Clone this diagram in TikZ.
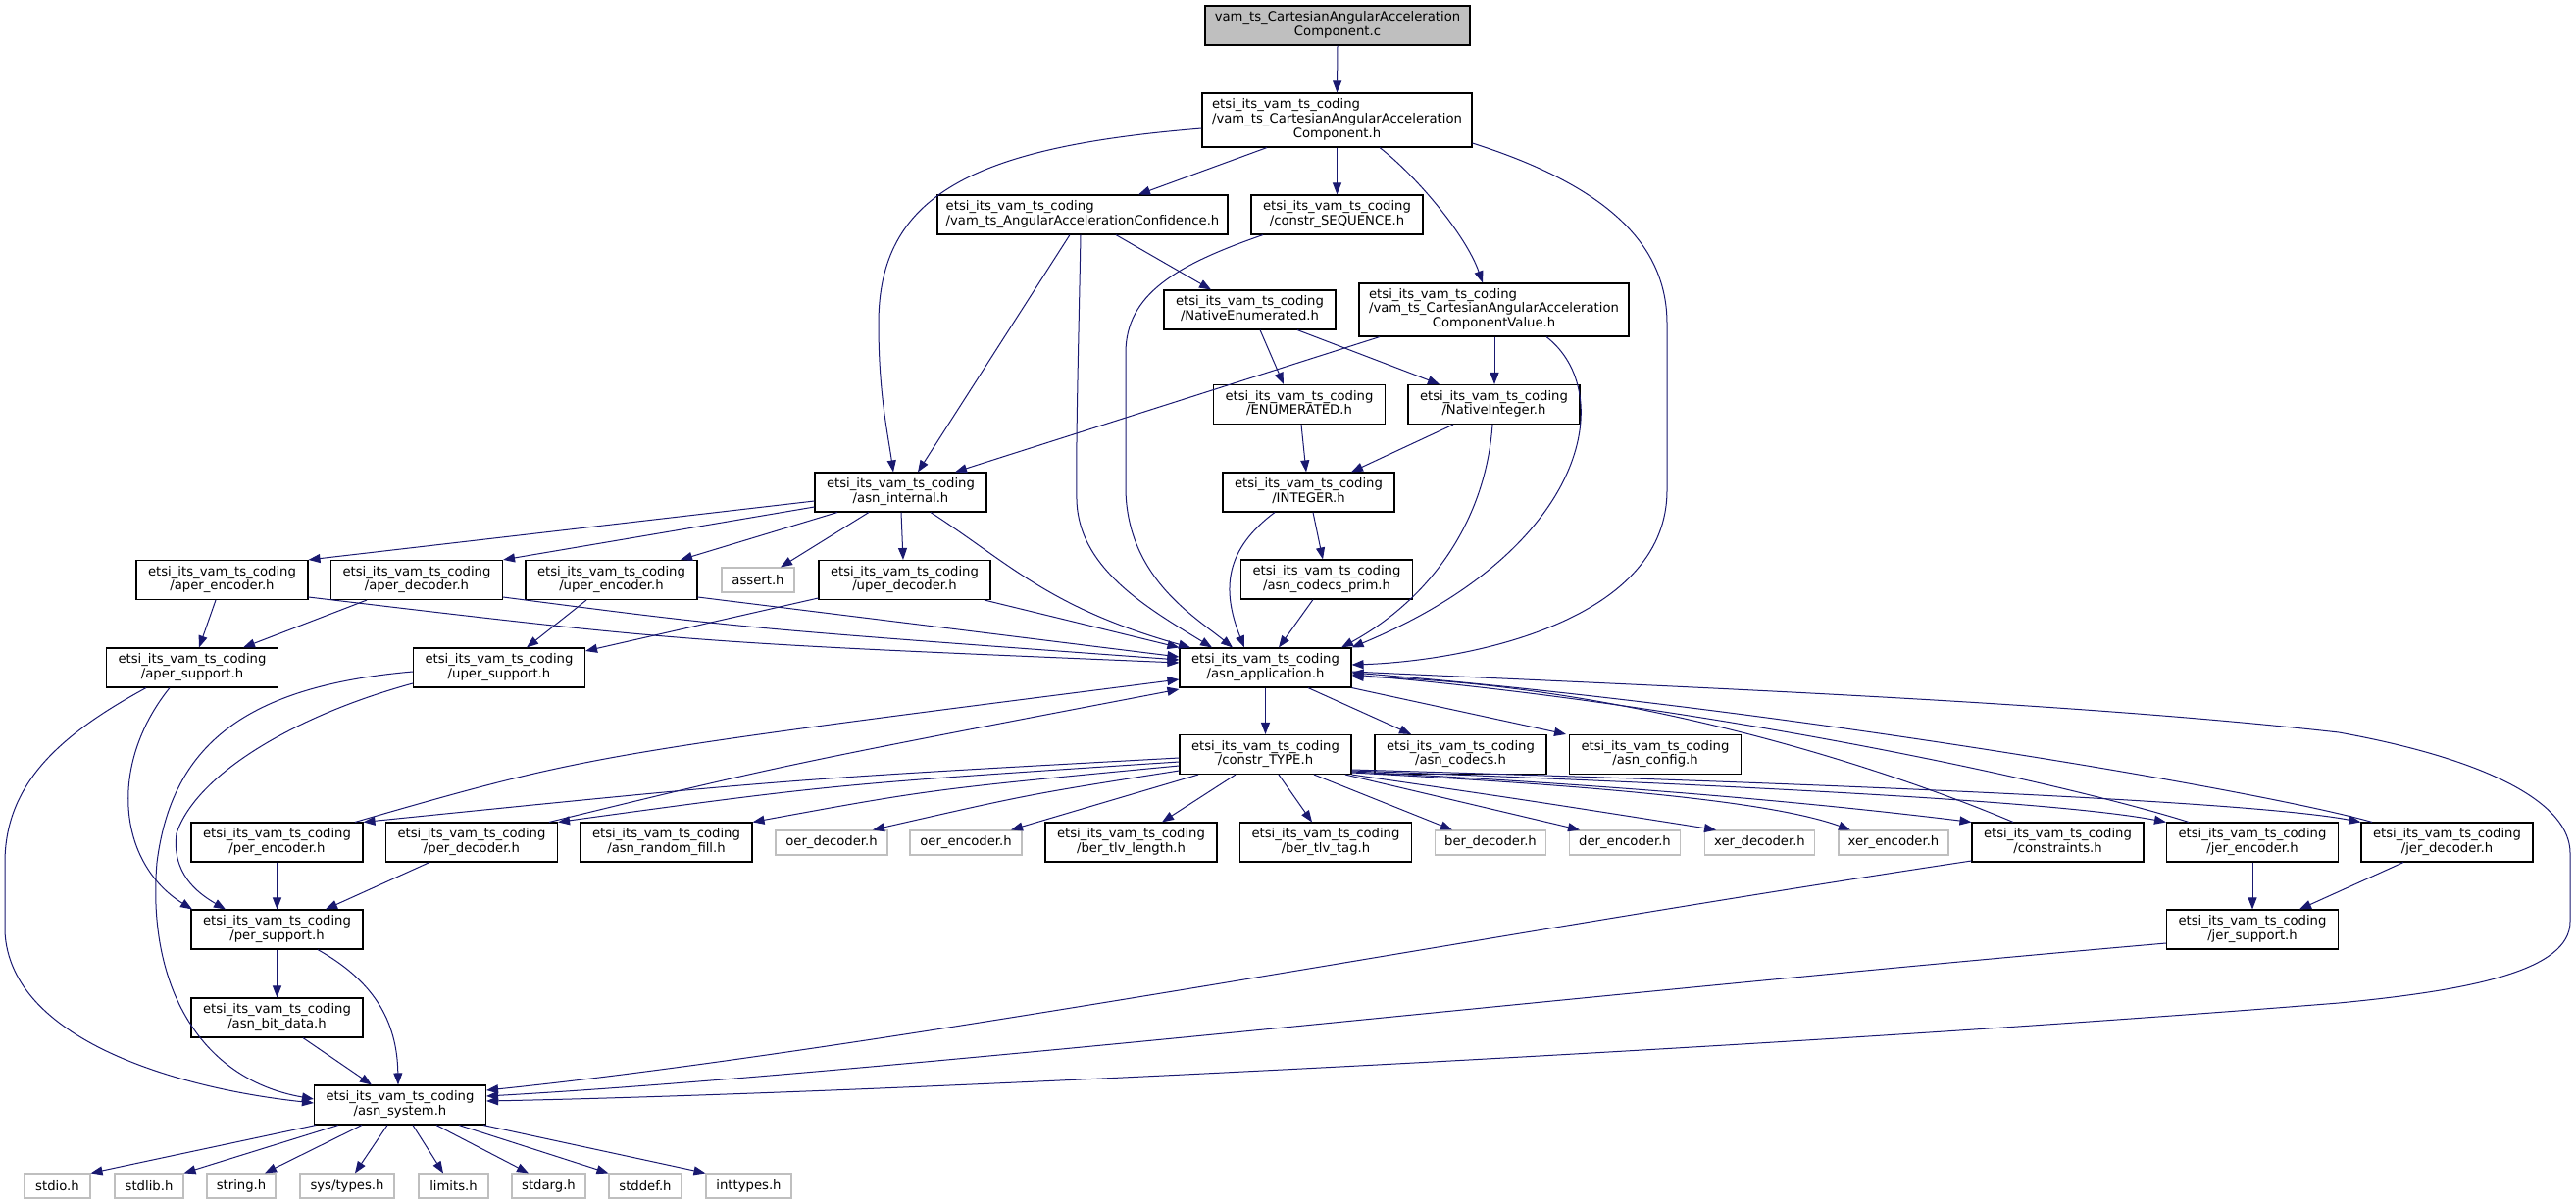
\documentclass[tikz,border=0pt]{standalone}
\usepackage{fontspec}
\setmainfont{DejaVu Sans}
\usetikzlibrary{arrows.meta}
\definecolor{edgec}{HTML}{191970}
\definecolor{sysc}{HTML}{BFBFBF}
\newcommand{\pfx}{etsi\_its\_vam\_ts\_coding}
\newcommand{\twol}[2]{\begin{tabular}{@{}l@{}}#1\\\multicolumn{1}{@{}c@{}}{#2}\end{tabular}}
\tikzset{
  nbox/.style={draw=black, fill=white, line width=1.1pt, inner sep=1pt, minimum width=175, minimum height=40, font=\fontsize{13.2}{14.7}\selectfont, align=center},
  gbox/.style={draw=sysc, fill=white, line width=1.1pt, inner sep=1pt, minimum height=25, font=\fontsize{13.2}{14.7}\selectfont},
  conn/.style={draw=edgec, line width=1pt, -{Triangle[length=12pt,width=9pt]}},
}
\begin{document}
\begin{tikzpicture}[x=1pt,y=-1pt]
\useasboundingbox (0,0) rectangle (2627,1228);
% nodes
\node[nbox, fill=sysc, minimum width=270] (nC) at (1364,26) {\twol{vam\_ts\_CartesianAngularAcceleration}{Component.c}};
\node[nbox, minimum width=275, minimum height=55] (nCAAC) at (1363.5,122.5) {\twol{\pfx\\/vam\_ts\_CartesianAngularAcceleration}{Component.h}};
\node[nbox, minimum width=296] (nAAC) at (1104,219) {\twol{\pfx}{/vam\_ts\_AngularAccelerationConfidence.h}};
\node[nbox] (nSEQ) at (1363.5,219) {\twol{\pfx}{/constr\_SEQUENCE.h}};
\node[nbox] (nNE) at (1274.5,316) {\twol{\pfx}{/NativeEnumerated.h}};
\node[nbox, minimum width=275, minimum height=54] (nVal) at (1523.5,316) {\twol{\pfx\\/vam\_ts\_CartesianAngularAcceleration}{ComponentValue.h}};
\node[nbox] (nENUM) at (1325,412.5) {\twol{\pfx}{/ENUMERATED.h}};
\node[nbox] (nNI) at (1523.5,412.5) {\twol{\pfx}{/NativeInteger.h}};
\node[nbox] (nInt) at (918.5,502) {\twol{\pfx}{/asn\_internal.h}};
\node[nbox] (nINT) at (1334.5,502) {\twol{\pfx}{/INTEGER.h}};
\node[nbox] (nAE) at (226.5,591.5) {\twol{\pfx}{/aper\_encoder.h}};
\node[nbox] (nAD) at (425,591.5) {\twol{\pfx}{/aper\_decoder.h}};
\node[nbox] (nUE) at (623.5,591.5) {\twol{\pfx}{/uper\_encoder.h}};
\node[gbox, minimum width=74] (nAssert) at (773,591.5) {assert.h};
\node[nbox] (nUD) at (922.5,591.5) {\twol{\pfx}{/uper\_decoder.h}};
\node[nbox] (nPrim) at (1353,591) {\twol{\pfx}{/asn\_codecs\_prim.h}};
\node[nbox] (nAS) at (196,681) {\twol{\pfx}{/aper\_support.h}};
\node[nbox] (nUS) at (509,681) {\twol{\pfx}{/uper\_support.h}};
\node[nbox] (nApp) at (1290.5,681) {\twol{\pfx}{/asn\_application.h}};
\node[nbox] (nTYPE) at (1290.5,769.5) {\twol{\pfx}{/constr\_TYPE.h}};
\node[nbox] (nCodecs) at (1489.5,769.5) {\twol{\pfx}{/asn\_codecs.h}};
\node[nbox] (nConfig) at (1688,769.5) {\twol{\pfx}{/asn\_config.h}};
\node[nbox] (nPE) at (282.5,859) {\twol{\pfx}{/per\_encoder.h}};
\node[nbox] (nPD) at (481,859) {\twol{\pfx}{/per\_decoder.h}};
\node[nbox] (nRF) at (679.5,859) {\twol{\pfx}{/asn\_random\_fill.h}};
\node[gbox, minimum width=114] (nOD) at (848,859.5) {oer\_decoder.h};
\node[gbox, minimum width=114] (nOE) at (985,859.5) {oer\_encoder.h};
\node[nbox] (nBL) at (1153.5,859) {\twol{\pfx}{/ber\_tlv\_length.h}};
\node[nbox] (nBT) at (1352,859) {\twol{\pfx}{/ber\_tlv\_tag.h}};
\node[gbox, minimum width=113] (nBD) at (1520,859.5) {ber\_decoder.h};
\node[gbox, minimum width=113] (nDE) at (1657,859.5) {der\_encoder.h};
\node[gbox, minimum width=112] (nXD) at (1794.5,859.5) {xer\_decoder.h};
\node[gbox, minimum width=112] (nXE) at (1931,859.5) {xer\_encoder.h};
\node[nbox] (nCons) at (2098.5,859) {\twol{\pfx}{/constraints.h}};
\node[nbox] (nJE) at (2297,859) {\twol{\pfx}{/jer\_encoder.h}};
\node[nbox] (nJD) at (2495.5,859) {\twol{\pfx}{/jer\_decoder.h}};
\node[nbox] (nJS) at (2297,948) {\twol{\pfx}{/jer\_support.h}};
\node[nbox] (nPS) at (282.5,948) {\twol{\pfx}{/per\_support.h}};
\node[nbox] (nBit) at (282.5,1038) {\twol{\pfx}{/asn\_bit\_data.h}};
\node[nbox] (nSys) at (408,1127) {\twol{\pfx}{/asn\_system.h}};
\node[gbox, minimum width=67] (sStdio) at (58.5,1209.5) {stdio.h};
\node[gbox, minimum width=70] (sStdlib) at (152,1209.5) {stdlib.h};
\node[gbox, minimum width=70] (sString) at (246,1209.5) {string.h};
\node[gbox, minimum width=96] (sTypes) at (354,1209.5) {sys/types.h};
\node[gbox, minimum width=71] (sLimits) at (462.5,1209.5) {limits.h};
\node[gbox, minimum width=75] (sStdarg) at (559.5,1209.5) {stdarg.h};
\node[gbox, minimum width=74] (sStddef) at (658,1209.5) {stddef.h};
\node[gbox, minimum width=87] (sInttypes) at (763.5,1209.5) {inttypes.h};
% edges: top part
\draw[conn] (nC.south) -- (nCAAC.north);
\draw[conn] (nCAAC.south -| 1292,0) -- (nAAC.north -| 1161,0);
\draw[conn] (nCAAC.south) -- (nSEQ.north);
\draw[conn] (nCAAC.south -| 1407,0) .. controls (1445,180) and (1495,240) .. (nVal.north -| 1512,0);
\draw[conn] (nCAAC.west |- 0,131) .. controls (990,150) and (896,200) .. (896,330) .. controls (896,400) and (905,440) .. (nInt.north -| 911,0);
\draw[conn] (nCAAC.east |- 0,146) .. controls (1640,190) and (1700,250) .. (1700,330) -- (1700,500) .. controls (1700,640) and (1480,675) .. (nApp.east |- 0,678);
\draw[conn] (nAAC.south -| 1091,0) -- (nInt.north -| 936,0);
\draw[conn] (nAAC.south -| 1102,0) .. controls (1100,350) and (1097,450) .. (1098,510) .. controls (1100,580) and (1170,620) .. (nApp.north -| 1236,0);
\draw[conn] (nAAC.south -| 1138,0) -- (nNE.north -| 1235,0);
\draw[conn] (nSEQ.south -| 1288,0) .. controls (1200,270) and (1148,300) .. (1148,360) -- (1148,500) .. controls (1150,590) and (1220,630) .. (nApp.north -| 1257,0);
\draw[conn] (nVal.south -| 1407,0) -- (nInt.north -| 974,0);
\draw[conn] (nVal.south -| 1524,0) -- (nNI.north -| 1524,0);
\draw[conn] (nVal.south -| 1577,0) .. controls (1650,400) and (1620,560) .. (nApp.north east);
\draw[conn] (nNE.south -| 1285,0) -- (nENUM.north -| 1309,0);
\draw[conn] (nNE.south -| 1323,0) -- (nNI.north -| 1468,0);
\draw[conn] (nENUM.south -| 1327,0) -- (nINT.north -| 1332,0);
\draw[conn] (nNI.south -| 1482,0) -- (nINT.north -| 1378,0);
\draw[conn] (nNI.south -| 1522,0) .. controls (1515,530) and (1460,610) .. (nApp.north -| 1368,0);
\draw[conn] (nINT.south -| 1339,0) -- (nPrim.north -| 1349,0);
\draw[conn] (nINT.south -| 1300,0) .. controls (1250,560) and (1245,600) .. (nApp.north -| 1269,0);
\draw[conn] (nPrim.south -| 1339,0) -- (nApp.north -| 1304,0);
% asn_internal
\draw[conn] (nInt.west |- 0,511) -- (nAE.north east);
\draw[conn] (nInt.west |- 0,517) -- (nAD.north east);
\draw[conn] (nInt.south -| 854,0) -- (nUE.north -| 694,0);
\draw[conn] (nInt.south -| 886,0) -- (nAssert.north -| 796,0);
\draw[conn] (nInt.south -| 919,0) -- (nUD.north -| 921,0);
\draw[conn] (nInt.south -| 949,0) .. controls (1030,575) and (1070,620) .. (nApp.north -| 1214,0);
% encoders / decoders
\draw[conn] (nAE.south -| 220,0) -- (nAS.north -| 203,0);
\draw[conn] (nAE.east |- 0,609) .. controls (700,655) .. (nApp.west |- 0,676);
\draw[conn] (nAD.south -| 374,0) -- (nAS.north -| 248,0);
\draw[conn] (nAD.east |- 0,609) .. controls (750,640) .. (nApp.west |- 0,673);
\draw[conn] (nUE.south -| 598,0) -- (nUS.north -| 537,0);
\draw[conn] (nUE.east |- 0,609) -- (nApp.west |- 0,670);
\draw[conn] (nUD.west |- 0,610) -- (nUS.east |- 0,664);
\draw[conn] (nUD.south -| 1004,0) -- (nApp.north west);
% supports
\draw[conn] (nAS.south -| 149,0) .. controls (60,750) and (5,800) .. (5,880) -- (5,950) .. controls (10,1060) and (180,1110) .. (nSys.west |- 0,1125);
\draw[conn] (nAS.south -| 173,0) .. controls (110,780) and (120,880) .. (nPS.north -| 196,0);
\draw[conn] (nUS.west |- 0,685) .. controls (250,700) and (175,760) .. (160,880) .. controls (150,1000) and (200,1100) .. (nSys.west |- 0,1121);
\draw[conn] (nUS.west |- 0,697) .. controls (300,730) and (200,790) .. (180,850) .. controls (175,890) and (200,910) .. (nPS.north -| 230,0);
\draw[conn] (nPE) -- (nPS);
\draw[conn] (nPD.south -| 438,0) -- (nPS.north -| 332,0);
\draw[conn] (nPS) -- (nBit);
\draw[conn] (nPS.south -| 324,0) .. controls (380,1000) and (405,1040) .. (nSys.north -| 406,0);
\draw[conn] (nBit.south -| 309,0) -- (nSys.north -| 379,0);
% asn_system
\draw[conn] (nSys.south -| 322,0) -- (sStdio.north east);
\draw[conn] (nSys.south -| 345,0) -- (sStdlib.north east);
\draw[conn] (nSys.south -| 369,0) -- (sString.north -| 270,0);
\draw[conn] (nSys.south -| 395,0) -- (sTypes.north -| 362,0);
\draw[conn] (nSys.south -| 421,0) -- (sLimits.north -| 452,0);
\draw[conn] (nSys.south -| 445,0) -- (sStdarg.north -| 539,0);
\draw[conn] (nSys.south -| 468,0) -- (sStddef.north west);
\draw[conn] (nSys.south -| 493,0) -- (sInttypes.north west);
% asn_application
\draw[conn] (nApp) -- (nTYPE);
\draw[conn] (nApp.south -| 1334,0) -- (nCodecs.north -| 1439,0);
\draw[conn] (nApp.south east) -- (nConfig.north -| 1597,0);
\draw[conn] (nApp.east |- 0,685) .. controls (1700,700) and (2100,715) .. (2385,747) .. controls (2540,775) and (2621,820) .. (2621,870) -- (2621,940) .. controls (2621,990) and (2520,1010) .. (2385,1023) .. controls (1800,1070) and (900,1115) .. (nSys.east |- 0,1123);
% constr_TYPE fan-out
\draw[conn] (nTYPE.west |- 0,773) .. controls (800,795) .. (nPE.north east);
\draw[conn] (nTYPE.west |- 0,777) .. controls (850,800) .. (nPD.north east);
\draw[conn] (nTYPE.west |- 0,781) .. controls (950,805) .. (nRF.north east);
\draw[conn] (nTYPE.west |- 0,786) .. controls (1050,810) .. (nOD.north -| 890,0);
\draw[conn] (nTYPE.south -| 1222,0) -- (nOE.north -| 1031,0);
\draw[conn] (nTYPE.south -| 1260,0) -- (nBL.north -| 1185,0);
\draw[conn] (nTYPE.south -| 1304,0) -- (nBT.north -| 1338,0);
\draw[conn] (nTYPE.south -| 1340,0) -- (nBD.north -| 1481,0);
\draw[conn] (nTYPE.south -| 1372,0) -- (nDE.north -| 1611,0);
\draw[conn] (nTYPE.south east) .. controls (1550,815) .. (nXD.north -| 1750,0);
\draw[conn] (nTYPE.east |- 0,788) .. controls (1600,800) and (1800,815) .. (nXE.north -| 1887,0);
\draw[conn] (nTYPE.east |- 0,787) .. controls (1700,803) and (1900,825) .. (nCons.north west);
\draw[conn] (nTYPE.east |- 0,786) .. controls (1800,802) and (2100,818) .. (nJE.north west);
\draw[conn] (nTYPE.east |- 0,785) .. controls (1900,800) and (2300,818) .. (nJD.north west);
% back to asn_application
\draw[conn] (nPE.north -| 362,0) .. controls (600,770) .. (nApp.west |- 0,693);
\draw[conn] (nPD.north -| 560,0) .. controls (800,780) .. (nApp.west |- 0,703);
\draw[conn] (nCons.north -| 2053,0) .. controls (1950,795) and (1680,698) .. (nApp.east |- 0,690);
\draw[conn] (nJE.north -| 2232,0) .. controls (2110,800) and (1750,720) .. (nApp.east |- 0,688);
\draw[conn] (nJD.north -| 2419,0) .. controls (2300,805) and (1800,720) .. (nApp.east |- 0,686);
% to asn_system and jer_support
\draw[conn] (nCons.west |- 0,878) .. controls (1500,955) and (900,1070) .. (nSys.east |- 0,1112);
\draw[conn] (nJS.west |- 0,962) .. controls (1600,1015) and (900,1095) .. (nSys.east |- 0,1118);
\draw[conn] (nJE) -- (nJS);
\draw[conn] (nJD.south -| 2451,0) -- (nJS.north -| 2345,0);
\end{tikzpicture}
\end{document}
